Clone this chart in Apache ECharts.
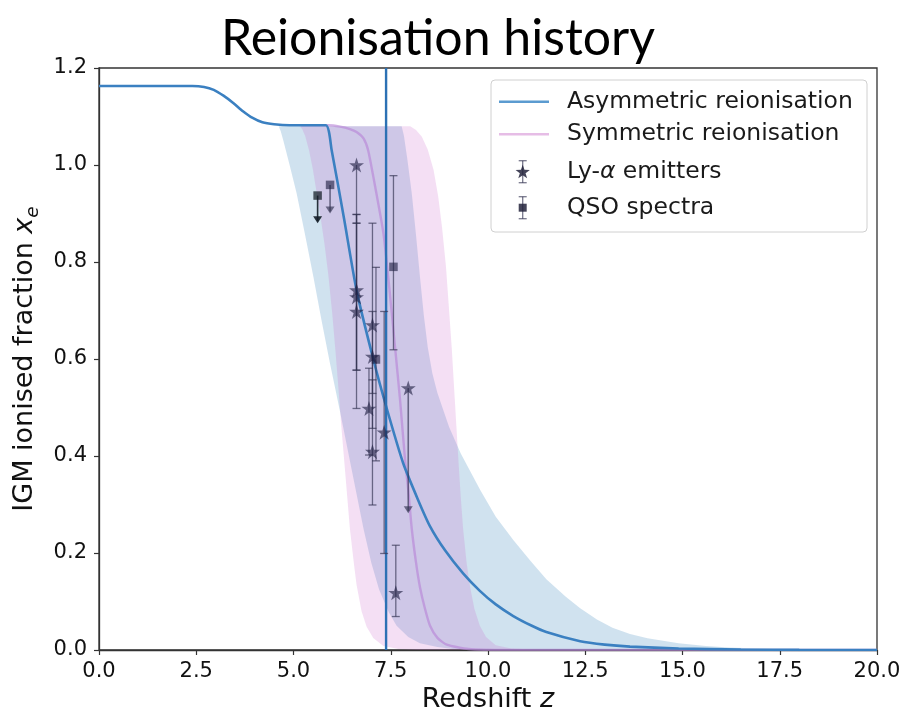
<!DOCTYPE html>
<html>
<head>
<meta charset="utf-8">
<script src="https://cdn.jsdelivr.net/npm/echarts@6/dist/echarts.min.js"></script>
<style>
  html, body { margin: 0; padding: 0; background: #ffffff; }
  #chart { width: 904px; height: 715px; }
</style>
</head>
<body>
<div id="chart"></div>
<script>
// Mean ionisation histories: [redshift z, IGM ionised fraction x_e]
const asymmetricCurve = [
  [0, 1.163], [2.4, 1.163], [2.7, 1.161], [2.95, 1.155], [3.2, 1.143], [3.45, 1.128],
  [3.7, 1.111], [3.95, 1.097], [4.2, 1.088], [4.5, 1.084], [4.9, 1.082], [5.83, 1.082],
  [5.98, 1.031], [6.3, 0.889], [6.62, 0.742], [7.05, 0.6], [7.39, 0.5], [7.82, 0.385],
  [8.2, 0.31], [8.51, 0.255], [8.9, 0.205], [9.36, 0.158], [9.79, 0.122], [10.2, 0.094],
  [10.65, 0.07], [11.1, 0.051], [11.5, 0.037], [12.37, 0.018], [13.0, 0.011], [13.65, 0.007],
  [14.9, 0.003], [16.5, 0.001], [18, 0.0002], [20, 0]
];
const symmetricCurve = [
  [5.2, 1.082], [5.9, 1.082], [6.2, 1.079], [6.45, 1.074], [6.62, 1.068], [6.8, 1.055],
  [6.92, 1.03], [7.1, 0.955], [7.31, 0.86], [7.44, 0.765], [7.61, 0.625], [7.74, 0.515],
  [7.87, 0.39], [7.95, 0.33], [8.04, 0.25], [8.15, 0.18], [8.25, 0.13], [8.38, 0.085],
  [8.51, 0.05], [8.7, 0.025], [8.94, 0.011], [9.5, 0.002], [10.5, 0], [20, 0]
];

// 68% bands: low-z edge and high-z edge, each from the ionised plateau down to zero
const asymmetricBandLow = [
  [4.62, 1.08], [4.67, 1.07], [4.74, 1.05], [4.9, 1.0], [5.08, 0.942], [5.3, 0.855],
  [5.51, 0.77], [5.72, 0.68], [5.94, 0.59], [6.2, 0.49], [6.5, 0.37], [6.8, 0.25],
  [7.0, 0.18], [7.2, 0.125], [7.45, 0.078], [7.65, 0.05], [7.95, 0.027], [8.25, 0.014],
  [8.7, 0.006], [9.1, 0.002], [10, 0]
];
const asymmetricBandHigh = [
  [7.78, 1.08], [7.84, 1.06], [7.93, 1.01], [8.04, 0.942], [8.15, 0.855], [8.25, 0.77],
  [8.35, 0.69], [8.45, 0.625], [8.57, 0.57], [8.7, 0.53], [9.0, 0.46], [9.3, 0.405],
  [9.8, 0.33], [10.2, 0.275], [10.65, 0.227], [11.1, 0.183], [11.5, 0.146], [12.0, 0.11],
  [12.37, 0.086], [12.8, 0.063], [13.2, 0.046], [13.65, 0.033], [14.1, 0.024], [14.9, 0.014],
  [15.6, 0.008], [16.2, 0.005], [17.5, 0.0015], [18.5, 0.0004], [20, 0]
];
const symmetricBandLow = [
  [5.15, 1.08], [5.22, 1.075], [5.3, 1.06], [5.4, 1.03], [5.5, 0.99], [5.59, 0.945],
  [5.7, 0.89], [5.8, 0.835], [5.9, 0.77], [6.0, 0.69], [6.08, 0.615], [6.15, 0.545],
  [6.22, 0.47], [6.32, 0.375], [6.45, 0.25], [6.55, 0.18], [6.62, 0.135], [6.75, 0.08],
  [6.88, 0.048], [7.05, 0.025], [7.31, 0.008], [7.7, 0.002], [8.2, 0]
];
const symmetricBandHigh = [
  [8.0, 1.08], [8.15, 1.072], [8.3, 1.058], [8.45, 1.032], [8.6, 0.99], [8.72, 0.935],
  [8.82, 0.87], [8.92, 0.79], [9.0, 0.7], [9.07, 0.62], [9.14, 0.525], [9.24, 0.39],
  [9.3, 0.315], [9.36, 0.25], [9.45, 0.18], [9.54, 0.13], [9.65, 0.085], [9.79, 0.05],
  [9.95, 0.027], [10.2, 0.01], [10.6, 0.003], [11.2, 0.001], [12, 0]
];

// Redshift where the asymmetric history reaches half ionisation
const midpointRedshift = 7.38;

// Ly-alpha emitters: [z, x_e, lower end of bar, upper end of bar]
const lyaPoints = [
  [6.62, 1.0, 0.88, 1.0],
  [6.62, 0.742, 0.577, 0.898],
  [6.62, 0.728, 0.577, 0.898],
  [6.62, 0.698, 0.498, 0.88],
  [7.03, 0.67, 0.457, 0.88],
  [7.03, 0.605, 0.529, 0.698],
  [6.94, 0.498, 0.402, 0.581],
  [7.03, 0.409, 0.299, 0.557],
  [7.33, 0.449, 0.199, 0.698],
  [7.63, 0.118, 0.069, 0.216]
];
// Ly-alpha upper limits: [z, x_e, arrow end]
const lyaUpperLimits = [[7.95, 0.54, 0.282]];
// QSO spectra: [z, x_e, lower end of bar, upper end of bar]
const qsoPoints = [
  [7.12, 0.599, 0.39, 0.789],
  [7.57, 0.79, 0.619, 0.978]
];
// QSO upper limits: [z, x_e, arrow end]
const qsoUpperLimits = [[5.62, 0.937, 0.88], [5.94, 0.959, 0.90]];

// Axis ranges and tick spacing
const xRange = [0, 20];
const xStep = 2.5;
const yRange = [0, 1.2];
const yStep = 0.2;

const FONT = 'DejaVu Sans';
const markColor = 'rgba(32, 32, 68, 0.78)';
const barColor = 'rgba(50, 50, 80, 0.66)';
const starPath = 'path://M50,2 L61.2,36.2 L97.6,36.2 L68.2,57.4 L79.4,91.6 L50,70.4 L20.6,91.6 L31.8,57.4 L2.4,36.2 L38.8,36.2 Z';

// Five-pointed star outline around a centre, for the legend key
function starOutline(cx, cy, r) {
  const pts = [];
  for (let k = 0; k < 10; k++) {
    const rad = (k % 2 === 0) ? r : r * 0.4;
    const ang = -Math.PI / 2 + k * Math.PI / 5;
    pts.push([cx + rad * Math.cos(ang), cy + rad * Math.sin(ang)]);
  }
  return pts;
}

function bandSeries(name, low, high, fill) {
  return {
    name: name,
    type: 'custom',
    coordinateSystem: 'cartesian2d',
    silent: true,
    clip: true,
    z: 1,
    data: [[low[0][0], low[0][1]]],
    renderItem: function (params, api) {
      const pts = low.map(function (p) { return api.coord(p); })
        .concat(high.slice().reverse().map(function (p) { return api.coord(p); }));
      return { type: 'polygon', shape: { points: pts }, style: { fill: fill } };
    }
  };
}

function errorBarSeries(points) {
  return {
    type: 'custom',
    coordinateSystem: 'cartesian2d',
    silent: true,
    z: 4,
    data: points,
    renderItem: function (params, api) {
      const z = api.value(0), v = api.value(1), lo = api.value(2), hi = api.value(3);
      const a = api.coord([z, lo]), b = api.coord([z, hi]);
      const s = { stroke: barColor, lineWidth: 1.3 };
      const kids = [{ type: 'line', shape: { x1: a[0], y1: a[1], x2: b[0], y2: b[1] }, style: s }];
      if (lo < v) kids.push({ type: 'line', shape: { x1: a[0] - 4, y1: a[1], x2: a[0] + 4, y2: a[1] }, style: s });
      if (hi > v) kids.push({ type: 'line', shape: { x1: b[0] - 4, y1: b[1], x2: b[0] + 4, y2: b[1] }, style: s });
      return { type: 'group', children: kids };
    }
  };
}

function limitSeries(points, darkFirst) {
  return {
    type: 'custom',
    coordinateSystem: 'cartesian2d',
    silent: true,
    z: 4,
    data: points,
    renderItem: function (params, api) {
      const z = api.value(0), v = api.value(1), end = api.value(2);
      const a = api.coord([z, v]), b = api.coord([z, end]);
      const col = (darkFirst && params.dataIndex === 0) ? 'rgba(20, 30, 40, 0.9)' : barColor;
      return {
        type: 'group',
        children: [
          { type: 'line', shape: { x1: a[0], y1: a[1], x2: b[0], y2: b[1] - 2 }, style: { stroke: col, lineWidth: 1.6 } },
          { type: 'polygon', shape: { points: [[b[0] - 4.5, b[1] - 7], [b[0] + 4.5, b[1] - 7], [b[0], b[1]]] },
            style: { fill: col } }
        ]
      };
    }
  };
}

const chart = echarts.init(document.getElementById('chart'), null, { renderer: 'canvas' });

const starData = lyaPoints.map(function (p) { return [p[0], p[1]]; })
  .concat(lyaUpperLimits.map(function (p) { return [p[0], p[1]]; }));
const squareData = qsoPoints.map(function (p) { return [p[0], p[1]]; })
  .concat(qsoUpperLimits.map(function (p, i) {
    return i === 0 ? { value: [p[0], p[1]], itemStyle: { color: 'rgba(20, 30, 40, 0.92)' } } : [p[0], p[1]];
  }));

// Legend drawn as graphics so the error-bar keys can be shown
const legendX = 491, legendY = 80;
const legendRows = [101.7, 134.3, 171.7, 207.7];
const legendTextX = 567;
const legendFont = 23.5;
const keyX = 522.7;

const option = {
  animation: false,
  backgroundColor: '#ffffff',
  title: {
    text: 'Reionisation history',
    left: 433,
    top: 9,
    textAlign: 'center',
    textStyle: { fontFamily: 'Lato', fontWeight: 'normal', fontSize: 50, color: '#000000' }
  },
  grid: {
    left: 99, right: 27, top: 68, bottom: 65,
    outerBoundsMode: 'none',
    containLabel: false,
    show: true, borderColor: '#333333', borderWidth: 1.3, backgroundColor: 'transparent'
  },
  xAxis: {
    type: 'value',
    min: xRange[0], max: xRange[1], interval: xStep,
    axisLine: { show: true, lineStyle: { color: '#333333', width: 1.3 } },
    axisTick: { show: true, inside: false, length: 5, lineStyle: { color: '#333333', width: 1.2 } },
    axisLabel: { fontFamily: FONT, fontSize: 21, color: '#111111', margin: 11,
      formatter: function (v) { return v.toFixed(1); } },
    splitLine: { show: false },
    name: '{t|Redshift }{i|z}',
    nameLocation: 'middle',
    nameGap: 36,
    nameTextStyle: {
      rich: {
        t: { fontFamily: FONT, fontSize: 27, color: '#111111' },
        i: { fontFamily: FONT, fontSize: 27, fontStyle: 'italic', color: '#111111' }
      }
    }
  },
  yAxis: {
    type: 'value',
    min: yRange[0], max: yRange[1], interval: yStep,
    axisLine: { show: true, lineStyle: { color: '#333333', width: 1.3 } },
    axisTick: { show: true, inside: false, length: 5, lineStyle: { color: '#333333', width: 1.2 } },
    axisLabel: { fontFamily: FONT, fontSize: 21, color: '#111111', margin: 12,
      formatter: function (v) { return v.toFixed(1); } },
    splitLine: { show: false },
    name: '{t|IGM ionised fraction }{i|x}{s|e}',
    nameLocation: 'middle',
    nameGap: 51,
    nameRotate: 90,
    nameTextStyle: {
      rich: {
        t: { fontFamily: FONT, fontSize: 27, color: '#111111', lineHeight: 36, verticalAlign: 'middle' },
        i: { fontFamily: FONT, fontSize: 27, fontStyle: 'italic', color: '#111111', lineHeight: 36, verticalAlign: 'middle' },
        s: { fontFamily: FONT, fontSize: 18.5, fontStyle: 'italic', color: '#111111', lineHeight: 36, verticalAlign: 'bottom' }
      }
    }
  },
  series: [
    bandSeries('Asymmetric band', asymmetricBandLow, asymmetricBandHigh, 'rgba(31, 119, 180, 0.21)'),
    bandSeries('Symmetric band', symmetricBandLow, symmetricBandHigh, 'rgba(200, 95, 200, 0.2)'),
    {
      name: 'Symmetric reionisation',
      type: 'line',
      data: symmetricCurve,
      showSymbol: false,
      smooth: 0.2,
      z: 2,
      lineStyle: { color: 'rgba(185, 135, 215, 0.65)', width: 2.4 }
    },
    {
      name: 'Asymmetric reionisation',
      type: 'line',
      data: asymmetricCurve,
      showSymbol: false,
      smooth: 0.2,
      z: 3,
      lineStyle: { color: '#3b80c1', width: 2.6 }
    },
    {
      name: 'Midpoint',
      type: 'line',
      data: [[midpointRedshift, yRange[0]], [midpointRedshift, yRange[1]]],
      showSymbol: false,
      z: 3,
      lineStyle: { color: '#2c71b4', width: 2.4 }
    },
    errorBarSeries(lyaPoints),
    errorBarSeries(qsoPoints),
    limitSeries(lyaUpperLimits, false),
    limitSeries(qsoUpperLimits, true),
    {
      name: 'Ly-α emitters',
      type: 'scatter',
      data: starData,
      symbol: starPath,
      symbolSize: 15,
      z: 5,
      itemStyle: { color: markColor }
    },
    {
      name: 'QSO spectra',
      type: 'scatter',
      data: squareData,
      symbol: 'rect',
      symbolSize: 8.5,
      z: 5,
      itemStyle: { color: markColor }
    }
  ],
  graphic: [
    {
      type: 'group',
      z: 100,
      children: [
        { type: 'rect', shape: { x: legendX, y: legendY, width: 376, height: 152, r: 4 },
          style: { fill: 'rgba(255,255,255,0.85)', stroke: '#d0d0d0', lineWidth: 1 } },
        { type: 'line', shape: { x1: 499, y1: legendRows[0], x2: 549, y2: legendRows[0] },
          style: { stroke: '#5b9bd0', lineWidth: 2.6 } },
        { type: 'line', shape: { x1: 499, y1: legendRows[1], x2: 549, y2: legendRows[1] },
          style: { stroke: '#e6bde6', lineWidth: 2.6 } },
        { type: 'line', shape: { x1: keyX, y1: legendRows[2] - 11, x2: keyX, y2: legendRows[2] + 11 },
          style: { stroke: barColor, lineWidth: 1.3 } },
        { type: 'line', shape: { x1: keyX - 4, y1: legendRows[2] - 11, x2: keyX + 4, y2: legendRows[2] - 11 },
          style: { stroke: barColor, lineWidth: 1.3 } },
        { type: 'line', shape: { x1: keyX - 4, y1: legendRows[2] + 11, x2: keyX + 4, y2: legendRows[2] + 11 },
          style: { stroke: barColor, lineWidth: 1.3 } },
        { type: 'polygon', shape: { points: starOutline(keyX, legendRows[2] + 0.5, 7.5) },
          style: { fill: 'rgba(35,35,60,0.85)' } },
        { type: 'line', shape: { x1: keyX, y1: legendRows[3] - 11, x2: keyX, y2: legendRows[3] + 11 },
          style: { stroke: barColor, lineWidth: 1.3 } },
        { type: 'line', shape: { x1: keyX - 4, y1: legendRows[3] - 11, x2: keyX + 4, y2: legendRows[3] - 11 },
          style: { stroke: barColor, lineWidth: 1.3 } },
        { type: 'line', shape: { x1: keyX - 4, y1: legendRows[3] + 11, x2: keyX + 4, y2: legendRows[3] + 11 },
          style: { stroke: barColor, lineWidth: 1.3 } },
        { type: 'rect', shape: { x: keyX - 4, y: legendRows[3] - 4, width: 8, height: 8 },
          style: { fill: 'rgba(35,35,60,0.85)' } },
        { type: 'text', x: legendTextX, y: legendRows[0], style: { text: 'Asymmetric reionisation',
            font: legendFont + 'px "DejaVu Sans"', fill: '#1a1a1a', verticalAlign: 'middle' } },
        { type: 'text', x: legendTextX, y: legendRows[1], style: { text: 'Symmetric reionisation',
            font: legendFont + 'px "DejaVu Sans"', fill: '#1a1a1a', verticalAlign: 'middle' } },
        { type: 'text', x: legendTextX, y: legendRows[2], style: {
            text: '{a|Ly-}{b|α}{a| emitters}', verticalAlign: 'middle',
            rich: {
              a: { fontFamily: FONT, fontSize: legendFont, fill: '#1a1a1a' },
              b: { fontFamily: FONT, fontSize: legendFont, fontStyle: 'italic', fill: '#1a1a1a' }
            } } },
        { type: 'text', x: legendTextX, y: legendRows[3], style: { text: 'QSO spectra',
            font: legendFont + 'px "DejaVu Sans"', fill: '#1a1a1a', verticalAlign: 'middle' } }
      ]
    }
  ]
};

chart.setOption(option);
</script>
</body>
</html>
